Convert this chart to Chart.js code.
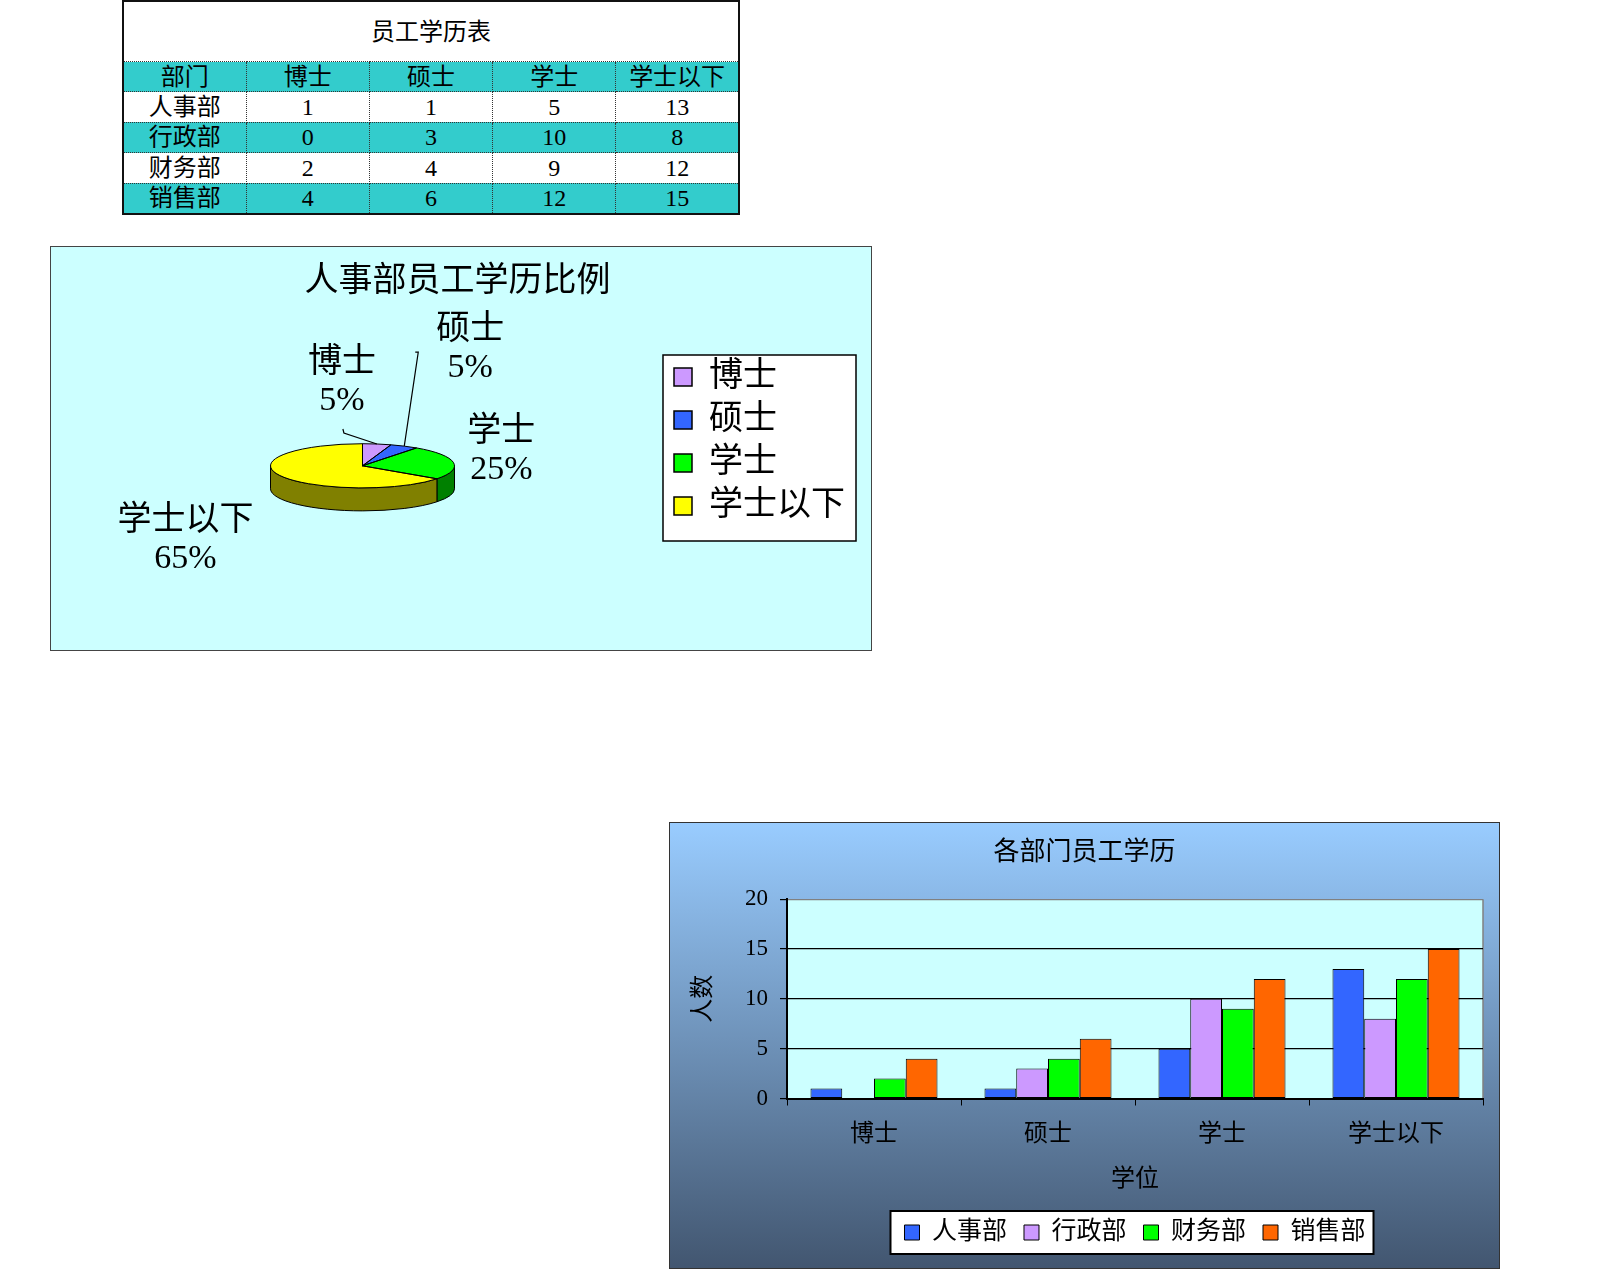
<!DOCTYPE html>
<html lang="zh-CN">
<head>
<meta charset="UTF-8">
<title>员工学历</title>
<script src="https://cdn.jsdelivr.net/npm/chart.js"></script>
<style>
    body {
        margin: 0;
        width: 1600px;
        height: 1272px;
        position: relative;
        overflow: hidden;
        background: #fff;
        font-family: "Liberation Serif", "Noto Sans CJK SC", serif;
    }

    #eduTable {
        position: absolute;
        left: 122px;
        top: 0;
        width: 618px;
        border-collapse: collapse;
        table-layout: fixed;
        border: 2px solid #111;
        font-size: 24px;
    }

    #eduTable td {
        border: 1px dotted #333;
        text-align: center;
        padding: 0;
        height: 29.4px;
        line-height: 28px;
        background: #fff;
    }

    #eduTable tr.cap td { height: 59px; }
    #eduTable tr.teal td { background: #33CCCC; }

    .box {
        position: absolute;
        box-sizing: border-box;
    }

    #pieBox {
        left: 50px;
        top: 246px;
        width: 822px;
        height: 405px;
        background: #CCFFFF;
        border: 1px solid #444;
    }

    #barBox {
        left: 669px;
        top: 822px;
        width: 831px;
        height: 447px;
        border: 1px solid #333;
        background: linear-gradient(#99CCFF, #425670);
    }

    canvas { display: block; }
</style>
</head>
<body>

<table id="eduTable"></table>

<div id="pieBox" class="box">
    <canvas id="pieChart" width="820" height="403"></canvas>
</div>

<div id="barBox" class="box">
    <canvas id="barChart" width="829" height="445"></canvas>
</div>

<script>
    // data
    const degrees = ['博士', '硕士', '学士', '学士以下'];
    const departments = ['人事部', '行政部', '财务部', '销售部'];
    const hrCounts = [1, 1, 5, 13];
    const adminCounts = [0, 3, 10, 8];
    const financeCounts = [2, 4, 9, 12];
    const salesCounts = [4, 6, 12, 15];
    const yTicks = [0, 5, 10, 15, 20];

    const deptCounts = [hrCounts, adminCounts, financeCounts, salesCounts];

    const F = '"Liberation Serif", "Noto Sans CJK SC", serif';

    // ---- table ----
    (function buildTable() {
        const t = document.getElementById('eduTable');
        let html = '<tr class="cap"><td colspan="5">员工学历表</td></tr>';
        html += '<tr class="teal"><td>部门</td>' + degrees.map(d => '<td>' + d + '</td>').join('') + '</tr>';
        departments.forEach((dep, i) => {
            html += '<tr class="' + (i % 2 ? 'teal' : '') + '"><td>' + dep + '</td>' +
                deptCounts[i].map(v => '<td>' + v + '</td>').join('') + '</tr>';
        });
        t.innerHTML = html;
    })();

    // ---- 3D pie ----
    const pieColors = ['#CC99FF', '#3366FF', '#00FF00', '#FFFF00'];
    const pieSideColors = ['#664C80', '#1A3380', '#008000', '#808000'];
    const K = 0.24;      // vertical squash of the top face
    const DEPTH = 23;    // thickness of the pie
    // label centre relative to slice mid point on the rim
    const labelShift = [[-35, -62], [66, -97], [48, -11], [-95, 64]];
    // leader lines: start / elbow relative to label centre
    const leaders = [[1, 47, 2, 51], [-55, 3, -52, 3], null, null];

    function rimPoint(p, ang) {
        return [p.x + p.outerRadius * Math.cos(ang), p.y + p.outerRadius * K * Math.sin(ang)];
    }

    const pie3d = {
        id: 'pie3d',
        beforeDraw(chart) {
            // frame round the legend
            const hb = chart.legend.legendHitBoxes;
            const ctx = chart.ctx;
            const l = Math.min(...hb.map(h => h.left)) - 11;
            const r = Math.max(...hb.map(h => h.left + h.width)) + 11;
            const t = Math.min(...hb.map(h => h.top)) - 5;
            const b = Math.max(...hb.map(h => h.top + h.height)) + 18;
            ctx.save();
            ctx.fillStyle = '#fff';
            ctx.fillRect(l, t, r - l, b - t);
            ctx.strokeStyle = '#000';
            ctx.lineWidth = 1.5;
            ctx.strokeRect(l, t, r - l, b - t);
            ctx.restore();
        },
        beforeDatasetsDraw(chart) {
            const ctx = chart.ctx;
            const arcs = chart.getDatasetMeta(0).data;
            const c = arcs[0].getProps(['x', 'y', 'outerRadius'], true);
            const ry = c.outerRadius * K;
            ctx.save();
            ctx.strokeStyle = '#000';
            ctx.lineWidth = 1;
            arcs.forEach((arc, i) => {
                const p = arc.getProps(['startAngle', 'endAngle'], true);
                const s = Math.max(p.startAngle, 0);
                const e = Math.min(p.endAngle, Math.PI);
                if (e <= s) return;
                ctx.beginPath();
                ctx.ellipse(c.x, c.y, c.outerRadius, ry, 0, s, e);
                ctx.lineTo(c.x + c.outerRadius * Math.cos(e), c.y + ry * Math.sin(e) + DEPTH);
                ctx.ellipse(c.x, c.y + DEPTH, c.outerRadius, ry, 0, e, s, true);
                ctx.closePath();
                ctx.fillStyle = pieSideColors[i];
                ctx.fill();
                ctx.stroke();
            });
            ctx.restore();
            ctx.save();
            ctx.translate(c.x, c.y);
            ctx.scale(1, K);
            ctx.translate(-c.x, -c.y);
        },
        afterDatasetsDraw(chart) {
            const ctx = chart.ctx;
            ctx.restore();
            const arcs = chart.getDatasetMeta(0).data;
            ctx.save();
            ctx.strokeStyle = '#000';
            ctx.lineWidth = 1;
            arcs.forEach(arc => {
                const p = arc.getProps(['x', 'y', 'startAngle', 'endAngle', 'outerRadius'], true);
                ctx.beginPath();
                ctx.moveTo(p.x, p.y);
                ctx.ellipse(p.x, p.y, p.outerRadius, p.outerRadius * K, 0, p.startAngle, p.endAngle);
                ctx.closePath();
                ctx.stroke();
            });
            ctx.restore();
        },
        afterDraw(chart) {
            const ctx = chart.ctx;
            const arcs = chart.getDatasetMeta(0).data;
            const values = chart.data.datasets[0].data;
            const total = values.reduce((a, b) => a + b, 0);
            ctx.save();
            ctx.font = '34px ' + F;
            ctx.textAlign = 'center';
            ctx.textBaseline = 'middle';
            ctx.fillStyle = '#000';
            ctx.strokeStyle = '#000';
            ctx.lineWidth = 1.2;
            arcs.forEach((arc, i) => {
                const p = arc.getProps(['x', 'y', 'startAngle', 'endAngle', 'outerRadius'], true);
                const [ax, ay] = rimPoint(p, (p.startAngle + p.endAngle) / 2);
                const lx = ax + labelShift[i][0];
                const ly = ay + labelShift[i][1];
                ctx.fillText(chart.data.labels[i], lx, ly - 19);
                ctx.fillText(Math.round(values[i] / total * 100) + '%', lx, ly + 19);
                const ld = leaders[i];
                if (ld) {
                    ctx.beginPath();
                    ctx.moveTo(lx + ld[0], ly + ld[1]);
                    ctx.lineTo(lx + ld[2], ly + ld[3]);
                    ctx.lineTo(ax, ay);
                    ctx.stroke();
                }
            });
            ctx.restore();
        }
    };

    new Chart(document.getElementById('pieChart'), {
        type: 'pie',
        data: {
            labels: degrees,
            datasets: [{
                data: hrCounts,
                backgroundColor: pieColors,
                borderWidth: 0,
                radius: 92,
                hoverOffset: 0
            }]
        },
        options: {
            responsive: false,
            animation: false,
            events: [],
            layout: { padding: { top: 0, left: 9, right: 16, bottom: 14 } },
            plugins: {
                title: {
                    display: true,
                    text: '人事部员工学历比例',
                    color: '#000',
                    font: { family: F, size: 34, weight: 'normal', lineHeight: 0.8 },
                    padding: { top: 21.4, bottom: 0 }
                },
                legend: {
                    position: 'right',
                    labels: {
                        color: '#000',
                        font: { family: F, size: 34 },
                        boxWidth: 18,
                        boxHeight: 18,
                        padding: 9,
                        generateLabels: chart => chart.data.labels.map((text, i) => ({
                            text: text,
                            fillStyle: pieColors[i],
                            strokeStyle: '#000',
                            lineWidth: 1.5,
                            hidden: false,
                            index: i
                        }))
                    }
                },
                tooltip: { enabled: false }
            }
        },
        plugins: [pie3d]
    });

    // ---- grouped bars ----
    const barColors = ['#3366FF', '#CC99FF', '#00FF00', '#FF6600'];

    const plotFrame = {
        id: 'plotFrame',
        beforeDraw(chart) {
            const { ctx, chartArea: a } = chart;
            ctx.save();
            ctx.fillStyle = '#CCFFFF';
            ctx.fillRect(a.left, a.top, a.width, a.height);
            ctx.strokeStyle = '#808080';
            ctx.lineWidth = 1.5;
            ctx.beginPath();
            ctx.moveTo(a.right, a.top);
            ctx.lineTo(a.right, a.bottom);
            ctx.stroke();

            const hb = chart.legend.legendHitBoxes;
            const l = Math.min(...hb.map(h => h.left)) - 14;
            const r = Math.max(...hb.map(h => h.left + h.width)) + 8;
            const t = Math.min(...hb.map(h => h.top)) - 9;
            const b = Math.max(...hb.map(h => h.top + h.height)) + 9;
            ctx.fillStyle = '#fff';
            ctx.fillRect(l, t, r - l, b - t);
            ctx.strokeStyle = '#000';
            ctx.lineWidth = 2;
            ctx.strokeRect(l, t, r - l, b - t);
            ctx.restore();
        }
    };

    new Chart(document.getElementById('barChart'), {
        type: 'bar',
        data: {
            labels: degrees,
            datasets: departments.map((dep, i) => ({
                label: dep,
                data: deptCounts[i],
                backgroundColor: barColors[i],
                borderColor: '#000',
                borderWidth: 1,
                borderSkipped: false,
                categoryPercentage: 0.73,
                barPercentage: 1
            }))
        },
        options: {
            responsive: false,
            animation: false,
            events: [],
            layout: { padding: { top: 0, left: 16, right: 16, bottom: 13 } },
            plugins: {
                title: {
                    display: true,
                    text: '各部门员工学历',
                    color: '#000',
                    font: { family: F, size: 26, weight: 'normal' },
                    padding: { top: 15, bottom: 30 }
                },
                legend: {
                    position: 'bottom',
                    fullSize: false,
                    labels: {
                        color: '#000',
                        font: { family: F, size: 25 },
                        boxWidth: 15,
                        boxHeight: 15,
                        padding: 17
                    }
                },
                tooltip: { enabled: false }
            },
            scales: {
                x: {
                    grid: { drawOnChartArea: false, color: '#000', tickLength: 7, offset: true },
                    border: { color: '#000', width: 2 },
                    ticks: { color: '#000', font: { family: F, size: 24 }, padding: 15, maxRotation: 0 },
                    title: {
                        display: true,
                        text: '学位',
                        color: '#000',
                        font: { family: F, size: 24 },
                        padding: { top: 0, bottom: 9 }
                    },
                    afterFit(scale) { scale.height = 104.5; }
                },
                y: {
                    min: yTicks[0],
                    max: yTicks[yTicks.length - 1],
                    afterBuildTicks(scale) { scale.ticks = yTicks.map(v => ({ value: v })); },
                    grid: {
                        color: c => (c.tick && c.tick.value === 20) ? '#808080' : '#000',
                        tickColor: '#000',
                        tickLength: 7,
                        lineWidth: 1.2
                    },
                    border: { color: '#000', width: 2 },
                    ticks: { color: '#000', font: { family: F, size: 23 }, padding: 12 },
                    title: {
                        display: true,
                        text: '人数',
                        color: '#000',
                        font: { family: F, size: 24 },
                        padding: { top: 3, bottom: 0 }
                    },
                    afterFit(scale) { scale.width = 101; }
                }
            }
        },
        plugins: [plotFrame]
    });
</script>

</body>
</html>
